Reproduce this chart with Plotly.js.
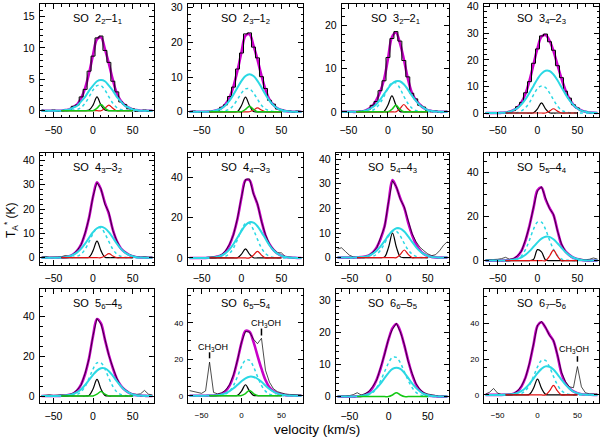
<!DOCTYPE html>
<html>
<head>
<meta charset="utf-8">
<script src="https://cdn.plot.ly/plotly-3.0.1.min.js"></script>
<style>
html, body { margin: 0; padding: 0; background: #fff; }
#chart { width: 600px; height: 437px; }
</style>
</head>
<body>
<div id="chart"></div>
<script>
// velocity grids (km/s): full spectrum and the narrow-component range
var vel  = [-65,-60,-55,-50,-45,-40,-35,-30,-25,-20,-15,-10,-5,0,5,10,15,20,25,30,35,40,45,50,55,60,65,70,75];
var velC = [-40,-35,-30,-25,-20,-15,-10,-5,0,5,10,15,20,25,30,35,40,45,50];

var labels = ['SO\u00a0 2<sub>2</sub>\u20131<sub>1</sub>', 'SO\u00a0 2<sub>3</sub>\u20131<sub>2</sub>',
              'SO\u00a0 3<sub>2</sub>\u20132<sub>1</sub>', 'SO\u00a0 3<sub>4</sub>\u20132<sub>3</sub>',
              'SO\u00a0 4<sub>3</sub>\u20133<sub>2</sub>', 'SO\u00a0 4<sub>4</sub>\u20133<sub>3</sub>',
              'SO\u00a0 5<sub>4</sub>\u20134<sub>3</sub>', 'SO\u00a0 5<sub>5</sub>\u20134<sub>4</sub>',
              'SO\u00a0 5<sub>6</sub>\u20134<sub>5</sub>', 'SO\u00a0 6<sub>5</sub>\u20135<sub>4</sub>',
              'SO\u00a0 6<sub>6</sub>\u20135<sub>5</sub>', 'SO\u00a0 6<sub>7</sub>\u20135<sub>6</sub>'];

// SO 2_2-1_1
var obs1 = [.1,-.1,0,.1,-.1,0,.1,.2,.7,.9,2.2,3.4,6.3,8.7,11.6,11.9,9.6,7.7,4.7,3.0,1.4,1.0,.3,.3,-.1,0,.1,-.1,0];
var fit1 = [0,0,0,0,0,0,.1,.2,.6,1,2,3.6,6,8.9,11.4,11.7,9.8,7.5,4.9,2.8,1.6,.9,.5,.2,.1,0,0,0,0];
var wide1 = [0,0,0,0,0,0,.1,.2,.5,.8,1.5,2.2,3.2,4,4.7,4.9,4.7,4,3.2,2.2,1.5,.8,.5,.2,.1,0,0,0,0];
var dot1 = [0,0,0,0,0,0,0,0,.1,.2,.5,1.2,2.2,3.3,4,4,3.3,2.2,1.2,.5,.2,.1,0,0,0,0,0,0,0];
var nar1 = [0,0,0,0,0,0,0,.1,.9,2.2,.9,.1,0,0,0,0,0,0,0];
var red1 = [0,0,0,0,0,0,0,0,0,0,0,.4,.9,.4,0,0,0,0,0];
var grn1 = [0,0,0,0,0,0,0,0,0,.4,1,.4,0,0,0,0,0,0,0];

// SO 2_3-1_2
var obs2 = [0,.2,-.1,0,.1,0,.3,.4,1.3,2.0,4.4,7.1,12.3,16.9,22.4,22.7,18.6,15.5,10.1,6.7,3.3,2.2,.8,.6,.1,.2,-.1,.2,0];
var fit2 = [0,0,0,0,0,.1,.2,.5,1.1,2.2,4.1,7.4,11.9,17.2,21.9,22.3,19,15,10.4,6.4,3.5,2,1,.5,.2,.1,0,0,0];
var wide2 = [0,0,0,0,0,.1,.2,.5,1,1.9,3.2,5,7,8.9,10.3,10.8,10.3,8.9,7,5,3.2,1.9,1,.5,.2,.1,0,0,0];
var dot2 = [0,0,0,0,0,0,0,0,.1,.3,.8,1.9,3.6,5.4,6.6,6.6,5.4,3.6,1.9,.8,.3,.1,0,0,0,0,0,0,0];
var nar2 = [0,0,0,0,0,0,0,.1,1.8,4.2,1.8,.1,0,0,0,0,0,0,0];
var red2 = [0,0,0,0,0,0,0,0,0,0,0,.5,1.1,.5,0,0,0,0,0];
var grn2 = [0,0,0,0,0,0,0,0,0,.7,1.6,.7,0,0,0,0,0,0,0];

// SO 3_2-2_1
var obs3 = [0,.1,0,-.1,.1,0,.1,.3,.5,1.5,2.4,4.9,7.2,12.6,17.0,18.6,16.4,11.9,8.1,4.3,3.0,1.5,1.1,.3,0,.2,-.1,0,.1];
var fit3 = [0,0,0,0,0,0,.1,.2,.6,1.3,2.6,4.6,7.5,12.3,17.3,18.4,16,12.2,7.8,4.5,2.8,1.7,.9,.4,.2,.1,0,0,0];
var wide3 = [0,0,0,0,0,0,.1,.2,.5,1,1.7,2.8,4.1,5.4,6.5,7.1,7.1,6.4,5.2,3.8,2.6,1.6,.9,.4,.2,.1,0,0,0];
var dot3 = [0,0,0,0,0,0,0,0,.1,.3,.9,2,3.6,5.5,6.7,6.7,5.5,3.6,2,.9,.3,.1,0,0,0,0,0,0,0];
var nar3 = [0,0,0,0,0,0,0,.1,1.6,3.7,1.6,.1,0,0,0,0,0,0,0];
var red3 = [0,0,0,0,0,0,0,0,0,0,0,.7,1.7,.7,0,0,0,0,0];
var grn3 = [0,0,0,0,0,0,0,0,0,.6,1.5,.6,0,0,0,0,0,0,0];

// SO 3_4-2_3
var obs4 = [.2,-.1,.1,0,.2,.1,.6,.9,2.4,4.0,7.6,11.8,18.7,24.1,29.0,29.7,26.8,23.6,17.8,13.3,8.2,5.6,3.1,1.9,.9,.6,.1,.2,-.1];
var fit4 = [0,0,0,0,.1,.2,.5,1.1,2.1,4.1,7.3,12.2,18.3,24.4,28.7,29.3,27.2,23.3,18.1,13,8.6,5.3,3.1,1.8,1,.5,.2,.1,0];
var wide4 = [0,0,0,0,.1,.2,.5,1.1,1.9,3.3,5.2,7.6,10.2,12.8,14.8,15.9,15.8,14.5,12.3,9.7,7.1,4.8,3,1.7,.9,.5,.2,.1,0];
var dot4 = [0,0,0,0,0,0,0,.1,.2,.8,2,4,6.8,9.2,10.2,9.6,7.6,5,2.6,1.1,.4,.1,0,0,0,0,0,0,0];
var nar4 = [0,0,0,0,0,0,0,.1,1.6,3.8,1.6,.1,0,0,0,0,0,0,0];
var red4 = [0,0,0,0,0,0,0,0,0,0,0,.7,1.6,.7,0,0,0,0,0];

// SO 4_3-3_2
var obs5 = [.3,.5,.2,.1,.3,.4,.9,.5,1.5,3.0,5.3,10.2,16.3,25.3,30.8,28.3,21.9,18.6,11.2,7.0,3.8,2.5,1.4,.8,.3,.2,.4,.2,.3];
var fit5 = [0,0,0,0,0,.1,.2,.6,1.4,2.9,5.5,10,16.5,25,31,28,22.5,18,11.5,6.8,3.9,2.3,1.3,.6,.2,.1,0,0,0];
var wide5 = [0,0,0,0,0,.1,.2,.6,1.2,2.2,3.7,5.8,8.2,10.5,12.1,12.7,12.1,10.5,8.2,5.8,3.7,2.2,1.2,.6,.2,.1,0,0,0];
var dot5 = [0,0,0,0,0,0,0,0,.2,.6,1.5,3.5,6.6,9.9,12.2,12.2,9.9,6.6,3.5,1.5,.6,.2,0,0,0,0,0,0,0];
var nar5 = [0,0,0,0,0,0,0,.2,2.9,6.8,2.9,.2,0,0,0,0,0,0,0];
var red5 = [0,0,0,0,0,0,0,0,0,0,0,.7,1.7,.7,0,0,0,0,0];

// SO 4_4-3_3
var obs6 = [.2,.1,.3,.1,.2,.3,.4,.8,1.6,3.5,6.8,11.5,19.8,30.4,38.9,39.2,31.6,27.0,18.0,11.6,6.9,4.3,2.6,2.5,.6,.3,.2,.1,.2];
var fit6 = [0,0,0,0,0,.1,.2,.7,1.4,3.2,6.5,11.8,19.4,30,38.5,38.5,32,26.5,18.5,11.2,6.8,4,2.2,1.1,.5,.2,.1,0,0];
var wide6 = [0,0,0,0,0,.1,.2,.6,1.2,2.4,4.3,6.9,10.1,13.4,16.2,17.7,17.5,15.7,12.8,9.5,6.3,3.8,2.1,1.1,.5,.2,.1,0,0];
var dot6 = [0,0,0,0,0,0,0,.1,.2,.8,2.2,4.9,9.2,13.9,17.1,17.1,13.9,9.2,4.9,2.2,.8,.2,.1,0,0,0,0,0,0];
var nar6 = [0,0,0,0,0,0,0,.1,1.9,4.5,1.9,.1,0,0,0,0,0,0,0];
var red6 = [0,0,0,0,0,0,0,0,0,0,0,1.4,3.3,1.4,0,0,0,0,0];

// SO 5_4-4_3
var obs7 = [3.5,4.0,2.5,1.0,.3,0,.2,.4,1.0,2.2,4.0,8.1,12.6,22.9,31.2,28.8,23.6,20.6,14.6,9.7,6.5,4.2,2.8,1.5,.8,1.2,2.8,5.0,6.5];
var fit7 = [0,0,0,0,0,.1,.2,.4,.9,2.1,4.3,7.8,12.9,22.6,31.5,28.5,24,20.2,14.2,9.2,5.5,3,1.5,.7,.3,.1,0,0,0];
var wide7 = [0,0,0,0,0,.1,.2,.4,.8,1.6,2.9,4.7,6.8,9.1,10.9,11.9,11.8,10.6,8.6,6.4,4.3,2.6,1.4,.7,.3,.1,0,0,0];
var dot7 = [0,0,0,0,0,0,0,0,.1,.5,1.4,3.1,5.8,8.7,10.7,10.7,8.7,5.8,3.1,1.4,.5,.1,0,0,0,0,0,0,0];
var nar7 = [0,0,0,0,0,0,0,.3,4.2,10,4.2,.3,0,0,0,0,0,0,0];
var red7 = [0,0,0,0,0,0,0,0,0,0,0,1.3,3.1,1.3,0,0,0,0,0];

// SO 5_5-4_4
var obs8 = [.3,.4,.3,.6,.9,1.5,.6,.9,2.2,4.3,9.6,15.7,24.4,31.8,33.6,28.3,23.7,21.1,13.5,7.6,4.2,2.7,1.4,.8,.5,.4,.6,1.2,.7];
var fit8 = [0,0,0,0,0,.1,.3,.8,2,4.5,9.2,16,24,32,33.3,28,24,20.8,13.8,7.3,4.2,2.5,1.3,.7,.3,.1,0,0,0];
var wide8 = [0,0,0,0,0,.1,.1,.4,.8,1.5,2.7,4.3,6.3,8.3,10,10.9,10.8,9.7,7.9,5.8,3.9,2.4,1.3,.7,.3,.1,0,0,0];
var dot8 = [0,0,0,0,0,0,.1,.2,.8,2.2,5.1,9.4,14.3,17.5,17.5,14.3,9.4,5.1,2.2,.8,.2,.1,0,0,0,0,0,0,0];
var nar8 = [0,0,0,0,0,0,0,.5,5,4,.3,0,0,0,0,0,0,0,0];
var red8 = [0,0,0,0,0,0,0,0,0,0,0,2,4.8,2,0,0,0,0,0];

// SO 5_6-4_5
var obs9 = [.2,.3,.6,.3,.5,.6,.4,.7,1.5,3.1,5.5,11.4,18.7,30.3,38.7,36.0,28.6,20.2,14.3,8.9,5.0,3.3,1.9,1.0,.8,1.1,2.8,.9,.5];
var fit9 = [0,0,0,0,0,.1,.2,.6,1.2,2.8,5.8,11,19,30,38.5,36.3,28.2,20.5,14,8.6,5.3,3.1,1.7,.8,.4,.2,.1,0,0];
var wide9 = [0,0,0,0,0,.1,.2,.5,1,1.9,3.4,5.5,8,10.6,12.7,13.9,13.8,12.4,10.1,7.4,5,3,1.7,.8,.4,.2,.1,0,0];
var dot9 = [0,0,0,0,0,0,0,.1,.2,.8,2.1,4.8,8.9,13.5,16.6,16.6,13.5,8.9,4.8,2.1,.8,.2,.1,0,0,0,0,0,0];
var nar9 = [0,0,0,0,0,0,0,.3,3.5,8.3,3.5,.3,0,0,0,0,0,0,0];
var grn9 = [0,0,0,0,0,0,0,0,0,.9,2.2,.9,0,0,0,0,0,0,0];

// SO 6_5-5_4
var obs10 = [2.8,2.2,1.6,1.3,2.6,18.4,1.8,1.0,1.6,3.0,6.0,11.5,19.6,29.4,35.2,34.9,31.0,28.5,31.5,14.0,7.4,3.8,2.2,1.4,.9,.7,.5,.6,.4];
var fit10 = [0,0,0,0,0,.1,.1,.4,1,2.5,5.5,11,19.5,29,35.5,35,29.5,22,14.8,8.6,4.6,2.6,1.4,.6,.3,.1,0,0,0];
var wide10 = [0,0,0,0,0,.1,.1,.3,.7,1.4,2.5,4.1,6,7.9,9.5,10.4,10.3,9.3,7.6,5.6,3.7,2.3,1.3,.6,.3,.1,0,0,0];
var dot10 = [0,0,0,0,0,0,0,.1,.3,.9,2.5,5.6,10.5,15.9,19.5,19.5,15.9,10.5,5.6,2.5,.9,.3,.1,0,0,0,0,0,0];
var nar10 = [0,0,0,0,0,0,0,.2,2.5,6,2.5,.2,0,0,0,0,0,0,0];
var grn10 = [0,0,0,0,0,0,0,0,.1,1.2,2.9,1.2,.1,0,0,0,0,0,0];

// SO 6_6-5_5
var obs11 = [.1,.2,.1,.3,.6,1.2,.5,.9,1.6,3.2,5.2,9.2,13.2,18.1,21.0,22.8,20.1,16.3,10.9,7.2,4.0,2.2,1.2,.8,.6,.2,.1,.2,.1];
var fit11 = [0,0,0,0,0,.1,.2,.6,1.4,2.9,5.4,8.9,13.4,17.8,21.3,22.6,20.3,16,11.2,6.9,3.8,2,1,.4,.2,.1,0,0,0];
var wide11 = [0,0,0,0,0,.1,.2,.4,.8,1.6,2.7,4.1,5.8,7.4,8.6,9,8.6,7.4,5.8,4.1,2.7,1.6,.8,.4,.2,.1,0,0,0];
var dot11 = [0,0,0,0,0,0,0,.2,.6,1.3,2.8,5,7.8,10.5,12.2,12.2,10.5,7.8,5,2.8,1.3,.6,.2,0,0,0,0,0,0];
var grn11 = [0,0,0,0,0,0,0,0,0,.5,1.2,.5,0,0,0,0,0,0,0];

// SO 6_7-5_6
var obs12 = [.5,1.5,3.6,1.0,.3,.2,.4,.8,2.2,5.0,9.6,17.8,27.7,38.9,40.9,37.8,33.1,30.4,22.4,12.6,7.5,4.5,4.0,15.8,4.5,1.2,.6,.4,.5];
var fit12 = [0,0,0,0,0,.1,.2,.7,2,4.8,9.8,17.5,28,38.5,40.5,37.5,33.5,30,22,12,6.6,3.8,2,1,.4,.2,.1,0,0];
var wide12 = [0,0,0,0,0,.1,.2,.5,1.1,2.2,3.9,6.2,9.1,12.1,14.5,15.9,15.7,14.1,11.5,8.5,5.7,3.5,1.9,1,.4,.2,.1,0,0];
var dot12 = [0,0,0,0,0,0,0,.1,.3,.9,2.4,5.6,10.3,15.6,19.2,19.2,15.6,10.3,5.6,2.4,.9,.3,.1,0,0,0,0,0,0];
var nar12 = [0,0,0,0,0,0,.3,3.7,8.8,3.7,.3,0,0,0,0,0,0,0,0];
var red12 = [0,0,0,0,0,0,0,0,0,0,0,2.2,5.3,2.2,0,0,0,0,0];

// CH3OH contaminating lines: panel, line velocity, marker bottom/top, label position
var ch3ohPanel = [10, 10, 12];
var ch3ohVel   = [-40, 25, 50];
var ch3ohLow   = [20.5, 33, 18.5];
var ch3ohHigh  = [23.8, 36.8, 21.6];
var ch3ohLabX  = [-36, 31, 46];
var ch3ohLabY  = [26.3, 39.5, 25.4];

// axis settings per panel
var xRanges = [[-67,77],[-67,77],[-58,77],[-67,77],[-67,77],[-67,77],[-67,77],[-67,77],[-67,77],[-67,77],[-67,77],[-67,77]];
var yRanges = [[-1,17],[-1.5,31],[-1.2,25],[-1.5,41],[-3,43],[-3.5,52],[-3,42.5],[-2,49],[-3.5,53.5],[-4,58.5],[-2,33.5],[-4.5,59]];
var yDtick  = [5,10,10,10,10,20,10,20,20,20,10,20];
var yMinor  = [1,2,2,2,2,5,2,5,5,5,2,5];

var panels = [
  {obs: obs1, fit: fit1, wide: wide1, dot: dot1, nar: nar1, red: red1, grn: grn1},
  {obs: obs2, fit: fit2, wide: wide2, dot: dot2, nar: nar2, red: red2, grn: grn2},
  {obs: obs3, fit: fit3, wide: wide3, dot: dot3, nar: nar3, red: red3, grn: grn3},
  {obs: obs4, fit: fit4, wide: wide4, dot: dot4, nar: nar4, red: red4},
  {obs: obs5, fit: fit5, wide: wide5, dot: dot5, nar: nar5, red: red5},
  {obs: obs6, fit: fit6, wide: wide6, dot: dot6, nar: nar6, red: red6},
  {obs: obs7, fit: fit7, wide: wide7, dot: dot7, nar: nar7, red: red7},
  {obs: obs8, fit: fit8, wide: wide8, dot: dot8, nar: nar8, red: red8},
  {obs: obs9, fit: fit9, wide: wide9, dot: dot9, nar: nar9, grn: grn9},
  {obs: obs10, fit: fit10, wide: wide10, dot: dot10, nar: nar10, grn: grn10},
  {obs: obs11, fit: fit11, wide: wide11, dot: dot11, grn: grn11},
  {obs: obs12, fit: fit12, wide: wide12, dot: dot12, nar: nar12, red: red12}
];

// frame boxes in pixels
var W = 600, H = 437;
var colPx = [[40,154],[188,303],[336,449],[484,599]];
var rowPx = [[4,117],[153,265],[289,403]];

var FONT = 'Liberation Sans, Arial, Helvetica, sans-serif';
var traces = [], layout = {
  width: W, height: H,
  margin: {l: 0, r: 0, t: 0, b: 0},
  paper_bgcolor: '#fff', plot_bgcolor: '#fff',
  showlegend: false,
  font: {family: FONT, color: '#000'},
  annotations: [], shapes: []
};

function line(xa, ya, xs, ys, color, width, dash, shape) {
  return {x: xs, y: ys, xaxis: xa, yaxis: ya, type: 'scatter', mode: 'lines',
          hoverinfo: 'skip', line: {color: color, width: width, dash: dash || 'solid', shape: shape || 'spline'}};
}

panels.forEach(function(p, i) {
  var n = i + 1, row = Math.floor(i / 4), col = i % 4;
  var xa = n === 1 ? 'x' : 'x' + n, ya = n === 1 ? 'y' : 'y' + n;
  var small = (n === 10 || n === 12);
  var cx = colPx[col].slice();
  if (n === 3) cx[0] = 342;
  var tickfont = {family: FONT, size: small ? 8 : 10.5, color: '#000'};
  var common = {
    ticks: 'inside', ticklen: 5, tickwidth: 1, tickcolor: '#000',
    showline: true, linecolor: '#000', linewidth: 1.3, mirror: 'ticks',
    showgrid: false, zeroline: false, fixedrange: true, tickfont: tickfont
  };
  layout[n === 1 ? 'xaxis' : 'xaxis' + n] = Object.assign({}, common, {
    domain: [cx[0] / W, cx[1] / W], anchor: ya, range: xRanges[i],
    tick0: 0, dtick: 50, ticklabelstandoff: small ? 4 : 3,
    minor: {dtick: 10, ticks: 'inside', ticklen: 2.5, tickwidth: 1, tickcolor: '#000', showgrid: false}
  });
  layout[n === 1 ? 'yaxis' : 'yaxis' + n] = Object.assign({}, common, {
    domain: [1 - rowPx[row][1] / H, 1 - rowPx[row][0] / H], anchor: xa, range: yRanges[i],
    tick0: 0, dtick: yDtick[i], ticklabelstandoff: 2,
    minor: {dtick: yMinor[i], ticks: 'inside', ticklen: 2.5, tickwidth: 1, tickcolor: '#000', showgrid: false}
  });

  // fit drawn first, the observed spectrum as a thin black line over it
  traces.push(line(xa, ya, vel, p.fit, '#c800c8', 2.6));
  traces.push(line(xa, ya, vel, p.obs, '#000', row === 0 ? 1 : 0.7, 'solid', row === 0 ? 'hvh' : 'linear'));
  traces.push(line(xa, ya, vel, p.wide, '#2ad8e4', 2));
  traces.push(line(xa, ya, vel, p.dot, '#2ad8e4', 1.5, 'dot'));
  if (p.nar) traces.push(line(xa, ya, velC, p.nar, '#000', 1.2));
  if (p.red) traces.push(line(xa, ya, velC, p.red, '#e01010', 1.2));
  if (p.grn) traces.push(line(xa, ya, velC, p.grn, '#12c812', 1.5));

  layout.annotations.push({
    text: labels[i], xref: xa + ' domain', yref: ya + ' domain', x: 0.5, y: 1,
    xanchor: 'center', yanchor: 'top', yshift: -6, showarrow: false,
    font: {family: FONT, size: 11, color: '#000'}
  });
});

ch3ohPanel.forEach(function(pn, k) {
  var xa = 'x' + pn, ya = 'y' + pn;
  layout.shapes.push({type: 'line', xref: xa, yref: ya, x0: ch3ohVel[k], x1: ch3ohVel[k],
                      y0: ch3ohLow[k], y1: ch3ohHigh[k], line: {color: '#000', width: 1.5}});
  layout.annotations.push({text: 'CH<sub>3</sub>OH', xref: xa, yref: ya, x: ch3ohLabX[k], y: ch3ohLabY[k],
                           xanchor: 'center', yanchor: 'middle',
                           showarrow: false, font: {family: FONT, size: 9, color: '#000'}});
});

layout.annotations.push({
  text: 'T<sub>A</sub><sup>*</sup> (K)', xref: 'paper', yref: 'paper', x: 11 / W, y: 1 - 220 / H,
  xanchor: 'center', yanchor: 'middle',
  textangle: -90, showarrow: false, font: {family: FONT, size: 12, color: '#000'}
});
layout.annotations.push({
  text: 'velocity (km/s)', xref: 'paper', yref: 'paper', x: 317 / W, y: 1 - 429 / H,
  xanchor: 'center', yanchor: 'middle',
  showarrow: false, font: {family: FONT, size: 13.5, color: '#000'}
});

Plotly.newPlot('chart', traces, layout, {staticPlot: true, displayModeBar: false});
</script>
</body>
</html>
